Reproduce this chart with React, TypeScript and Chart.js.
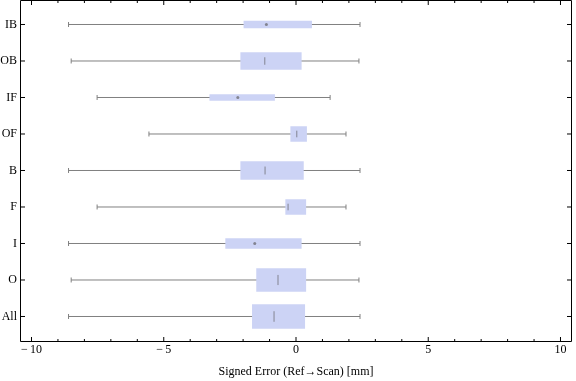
import { useEffect, useRef } from "react";
import { Chart, registerables } from "chart.js";

Chart.register(...registerables);

// ---- data ----
const categories = ["IB", "OB", "IF", "OF", "B", "F", "I", "O", "All"];
const whiskerLow = [-8.6, -8.5, -7.52, -5.56, -8.6, -7.52, -8.6, -8.5, -8.6];
const q1 = [-1.97, -2.09, -3.26, -0.2, -2.09, -0.39, -2.66, -1.49, -1.65];
const median = [-1.12, -1.18, -2.2, 0.03, -1.17, -0.3, -1.56, -0.68, -0.83];
const q3 = [0.59, 0.2, -0.81, 0.4, 0.28, 0.37, 0.2, 0.37, 0.33];
const whiskerHigh = [2.42, 2.38, 1.29, 1.89, 2.42, 1.89, 2.42, 2.38, 2.42];
const xMajorTicks = [-10, -5, 0, 5, 10];
const xMinorTicks = [-9, -8, -7, -6, -4, -3, -2, -1, 1, 2, 3, 4, 6, 7, 8, 9];
const xTitle = "Signed Error (Ref\u2192Scan) [mm]";

// ---- styles ----
const BOX_THICKNESS = [7, 17, 6, 15, 18, 15, 10, 23, 24];
const BOX_COLOR = "rgb(204,211,245)";
const WHISKER_COLOR = "#808080";
const MEDIAN_COLOR = "rgba(112,112,120,0.8)";
const FONT = '"Liberation Serif", "Times New Roman", serif';

const frameTicksPlugin = {
  id: "frameTicks",
  afterDraw(chart: any) {
    const { ctx, chartArea } = chart;
    const { left, right, top, bottom } = chartArea;
    const x = chart.scales.x;
    const y = chart.scales.y;
    ctx.save();
    ctx.strokeStyle = "#000";
    ctx.lineWidth = 1;
    ctx.beginPath();
    ctx.rect(left, top, right - left, bottom - top);
    const vt = (v: number, len: number) => {
      const px = x.getPixelForValue(v);
      ctx.moveTo(px, bottom);
      ctx.lineTo(px, bottom - len);
      ctx.moveTo(px, top);
      ctx.lineTo(px, top + len);
    };
    xMajorTicks.forEach((v) => vt(v, 4.5));
    xMinorTicks.forEach((v) => vt(v, 2.5));
    categories.forEach((_, i) => {
      const py = y.getPixelForValue(i + 1);
      ctx.moveTo(left, py);
      ctx.lineTo(left + 4.5, py);
      ctx.moveTo(right, py);
      ctx.lineTo(right - 4.5, py);
    });
    ctx.stroke();
    ctx.restore();
  },
};

export default function App() {
  const ref = useRef<HTMLCanvasElement | null>(null);

  useEffect(() => {
    if (!ref.current) return;
    Chart.defaults.font.family = FONT;
    Chart.defaults.font.size = 12;
    Chart.defaults.color = "#000";

    const whiskerPts: any[] = [];
    categories.forEach((_, i) => {
      whiskerPts.push({ x: whiskerLow[i], y: i + 1 });
      whiskerPts.push({ x: whiskerHigh[i], y: i + 1 });
    });

    const boxDatasets = categories.map((_, i) => ({
      type: "bar",
      indexAxis: "y",
      data: categories.map((__, j) =>
        j === i ? { x: [q1[i], q3[i]], y: j + 1 } : { x: null, y: j + 1 }
      ),
      backgroundColor: BOX_COLOR,
      borderWidth: 0,
      barThickness: BOX_THICKNESS[i],
      skipNull: true,
      order: 3,
      xAxisID: "x",
      yAxisID: "y",
    }));

    const chart = new Chart(ref.current, {
      type: "bar",
      data: {
        datasets: [
          {
            type: "scatter",
            data: whiskerPts,
            showLine: true,
            borderColor: WHISKER_COLOR,
            borderWidth: 1,
            pointRadius: 0,
            segment: {
              borderColor: (c: any) =>
                c.p0DataIndex % 2 === 0 ? WHISKER_COLOR : "rgba(0,0,0,0)",
            },
            order: 5,
            xAxisID: "x",
            yAxisID: "y",
          } as any,
          ...(boxDatasets as any[]),
          {
            type: "scatter",
            data: whiskerPts,
            showLine: false,
            pointStyle: "line",
            pointRotation: 90,
            pointRadius: 2.5,
            pointBorderColor: WHISKER_COLOR,
            pointBorderWidth: 1,
            order: 2,
            xAxisID: "x",
            yAxisID: "y",
          } as any,
          {
            type: "scatter",
            data: median.map((m, i) => ({ x: m, y: i + 1 })),
            showLine: false,
            pointStyle: (c: any) =>
              BOX_THICKNESS[c.dataIndex] <= 10 ? "circle" : "line",
            pointRotation: 90,
            pointRadius: (c: any) =>
              BOX_THICKNESS[c.dataIndex] <= 10
                ? 1.5
                : BOX_THICKNESS[c.dataIndex] * 0.22,
            pointBorderColor: MEDIAN_COLOR,
            pointBackgroundColor: MEDIAN_COLOR,
            pointBorderWidth: (c: any) =>
              BOX_THICKNESS[c.dataIndex] <= 10 ? 0 : 1,
            order: 1,
            xAxisID: "x",
            yAxisID: "y",
          } as any,
        ],
      },
      options: {
        animation: false,
        responsive: true,
        maintainAspectRatio: false,
        events: [],
        layout: {
          autoPadding: false,
          padding: { top: 0.5, right: 4.5, left: 0, bottom: 0 },
        },
        plugins: {
          legend: { display: false },
          tooltip: { enabled: false },
        },
        scales: {
          x: {
            type: "linear",
            position: "bottom",
            min: -10.416,
            max: 10.416,
            offset: false,
            grid: { display: false, drawTicks: false },
            border: { display: false },
            afterBuildTicks: (s: any) => {
              s.ticks = xMajorTicks.map((v) => ({ value: v }));
            },
            afterFit: (s: any) => {
              s.height = 39.5;
              s.paddingLeft = 0;
              s.paddingRight = 0;
            },
            ticks: {
              autoSkip: false,
              maxRotation: 0,
              padding: 1.5,
              color: "#000",
              callback: (v: any) =>
                Number(v) < 0 ? "\u2212\u2009" + String(Math.abs(Number(v))) : String(v),
            },
            title: {
              display: true,
              text: xTitle,
              color: "#000",
              padding: { top: 0, bottom: 2 },
            },
          },
          y: {
            type: "linear",
            position: "left",
            reverse: true,
            min: 0.3425,
            max: 9.685,
            offset: false,
            beginAtZero: false,
            grid: { display: false, offset: false, drawTicks: false },
            border: { display: false },
            afterBuildTicks: (s: any) => {
              s.ticks = categories.map((_, i) => ({ value: i + 1 }));
            },
            afterFit: (s: any) => {
              s.width = 20.5;
              s.paddingTop = 0;
              s.paddingBottom = 0;
            },
            ticks: {
              autoSkip: false,
              padding: 3.5,
              color: "#000",
              callback: (v: any) => categories[Math.round(Number(v)) - 1] ?? "",
            },
          },
        },
      } as any,
      plugins: [frameTicksPlugin],
    } as any);

    return () => chart.destroy();
  }, []);

  return (
    <div
      style={{
        position: "absolute",
        left: 0,
        top: 0,
        width: 576,
        height: 381,
        background: "#fff",
      }}
    >
      <canvas ref={ref} />
    </div>
  );
}
